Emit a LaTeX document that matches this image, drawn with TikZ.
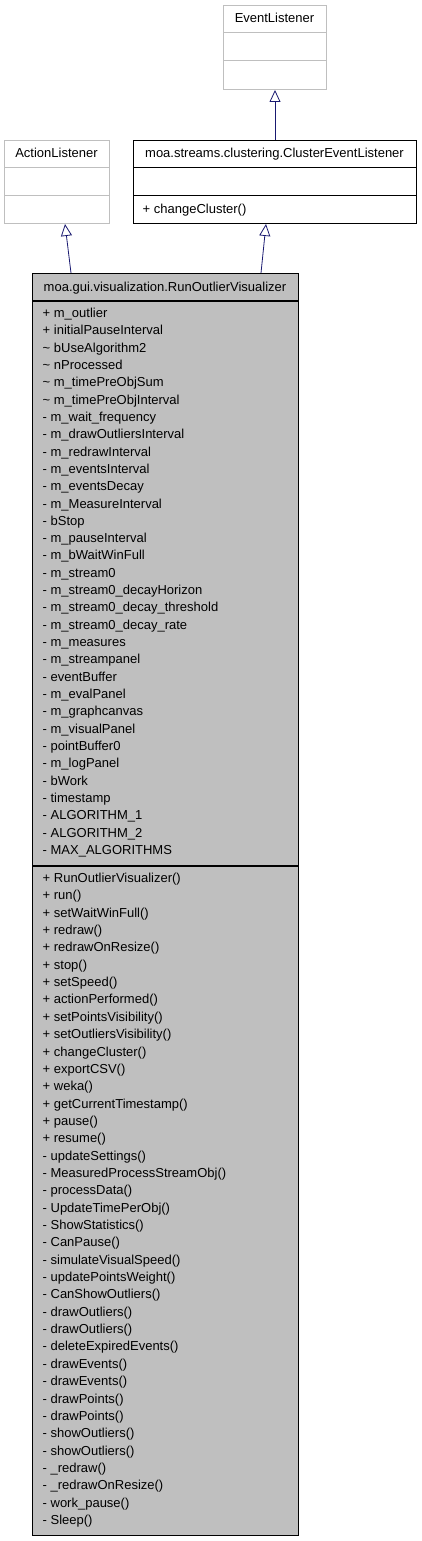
\documentclass[tikz,border=0pt]{standalone}
\usepackage{fontspec}
\setmainfont{Liberation Sans}
\usetikzlibrary{arrows.meta,calc}
\definecolor{lgrey}{RGB}{191,191,191}
\definecolor{boxfill}{RGB}{191,191,191}
\definecolor{mnblue}{RGB}{25,25,112}
\begin{document}
\begin{tikzpicture}[x=1pt,y=-1pt,
  every node/.style={font=\fontsize{13}{15}\selectfont},
  classbox/.style={draw, rectangle, inner sep=0pt, anchor=north west},
  lbl/.style={inner sep=0pt, anchor=base west},
  ttl/.style={inner sep=0pt, anchor=base},
  inh/.style={draw=mnblue, line width=0.8pt, -{Triangle[open,length=12pt,width=11pt,fill=white]}}]
\useasboundingbox (0,0) rectangle (421,1541);
% boxes
\node[classbox, draw=lgrey, line width=1pt, minimum width=103pt, minimum height=84pt] (ev) at (223,5) {};
\node[classbox, draw=lgrey, line width=1pt, minimum width=105pt, minimum height=83pt] (al) at (4,140) {};
\node[classbox, draw=black, line width=1pt, minimum width=283pt, minimum height=83pt] (cl) at (133,140) {};
\node[classbox, draw=black, fill=boxfill, line width=1.2pt, minimum width=266pt, minimum height=1262pt] (mn) at (32,273) {};
% dividers
\draw[lgrey, line width=1pt] ($(ev.north west)+(0,28)$) -- ($(ev.north east)+(0,28)$);
\draw[lgrey, line width=1pt] ($(ev.north west)+(0,56)$) -- ($(ev.north east)+(0,56)$);
\draw[lgrey, line width=1pt] ($(al.north west)+(0,27.5)$) -- ($(al.north east)+(0,27.5)$);
\draw[lgrey, line width=1pt] ($(al.north west)+(0,55.5)$) -- ($(al.north east)+(0,55.5)$);
\draw[black, line width=1pt] ($(cl.north west)+(0,28)$) -- ($(cl.north east)+(0,28)$);
\draw[black, line width=1pt] ($(cl.north west)+(0,56)$) -- ($(cl.north east)+(0,56)$);
\draw[black, line width=1.2pt] ($(mn.north west)+(0,28)$) -- ($(mn.north east)+(0,28)$);
\draw[black, line width=1.2pt] ($(mn.north west)+(0,593)$) -- ($(mn.north east)+(0,593)$);
% titles
\node[ttl] (evt) at (274.5,22.5) {EventListener};
\node[ttl] (alt) at (56.5,157.5) {ActionListener};
\node[ttl] (clt) at (274.5,157.5) {moa.streams.clustering.ClusterEventListener};
\node[lbl] (clm) at (142.5,213.5) {+ changeCluster()};
\node[ttl] (mnt) at (165,291.5) {moa.gui.visualization.RunOutlierVisualizer};
% attributes
\foreach \t [count=\i] in {+ m\_outlier, + initialPauseInterval, \textasciitilde{} bUseAlgorithm2, \textasciitilde{} nProcessed, \textasciitilde{} m\_timePreObjSum, \textasciitilde{} m\_timePreObjInterval, - m\_wait\_frequency, - m\_drawOutliersInterval, - m\_redrawInterval, - m\_eventsInterval, - m\_eventsDecay, - m\_MeasureInterval, - bStop, - m\_pauseInterval, - m\_bWaitWinFull, - m\_stream0, - m\_stream0\_decayHorizon, - m\_stream0\_decay\_threshold, - m\_stream0\_decay\_rate, - m\_measures, - m\_streampanel, - eventBuffer, - m\_evalPanel, - m\_graphcanvas, - m\_visualPanel, - pointBuffer0, - m\_logPanel, - bWork, - timestamp, - ALGORITHM\_1, - ALGORITHM\_2, - MAX\_ALGORITHMS}
  \node[lbl] (a\i) at (42.5,{317.5+17.32*(\i-1)}) {\t};
% methods
\foreach \t [count=\i] in {+ RunOutlierVisualizer(), + run(), + setWaitWinFull(), + redraw(), + redrawOnResize(), + stop(), + setSpeed(), + actionPerformed(), + setPointsVisibility(), + setOutliersVisibility(), + changeCluster(), + exportCSV(), + weka(), + getCurrentTimestamp(), + pause(), + resume(), - updateSettings(), - MeasuredProcessStreamObj(), - processData(), - UpdateTimePerObj(), - ShowStatistics(), - CanPause(), - simulateVisualSpeed(), - updatePointsWeight(), - CanShowOutliers(), - drawOutliers(), - drawOutliers(), - deleteExpiredEvents(), - drawEvents(), - drawEvents(), - drawPoints(), - drawPoints(), - showOutliers(), - showOutliers(), - \_redraw(), - \_redrawOnResize(), - work\_pause(), - Sleep()}
  \node[lbl] (m\i) at (42.5,{882.5+17.35*(\i-1)}) {\t};
% inheritance arrows
\draw[inh] ($(mn.north west)+(39,0)$) -- ($(al.south west)+(61,0)$);
\draw[inh] ($(mn.north west)+(229,0)$) -- ($(cl.south west)+(133,0)$);
\draw[inh] (cl.north -| ev.south) -- (ev.south);
\end{tikzpicture}
\end{document}
